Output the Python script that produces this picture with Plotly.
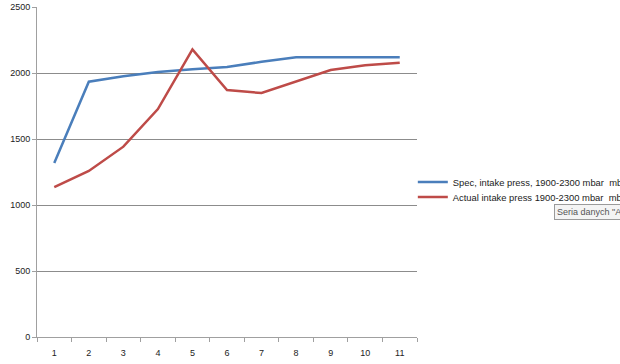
import plotly.graph_objects as go

categories = [str(i) for i in range(1, 12)]
spec_name = "Spec, intake press, 1900-2300 mbar  mbar"
spec_values = [1318, 1934, 1975, 2008, 2028, 2045, 2085, 2119, 2120, 2120, 2120]
actual_name = "Actual intake press 1900-2300 mbar  mbar"
actual_values = [1136, 1258, 1442, 1727, 2179, 1871, 1848, 1935, 2023, 2058, 2078]
y_ticks = [0, 500, 1000, 1500, 2000, 2500]
tooltip_text = 'Seria danych "A'

fig = go.Figure()
fig.add_trace(go.Scatter(x=categories, y=spec_values, mode="lines", name=spec_name,
                         line=dict(color="#4A7EBB", width=2.5), legend="legend"))
fig.add_trace(go.Scatter(x=categories, y=actual_values, mode="lines", name=actual_name,
                         line=dict(color="#BE4B48", width=2.5), legend="legend2"))

fam = "Liberation Sans, Arial, sans-serif"
font = dict(family=fam, size=9, color="#222222")
legfont = dict(family=fam, size=9.4, color="#222222")
fig.update_layout(
    width=620, height=364,
    margin=dict(l=37, r=203, t=7, b=27, autoexpand=False),
    paper_bgcolor="white", plot_bgcolor="white",
    font=font,
    showlegend=True,
    legend=dict(x=0.989, y=0.4697, xanchor="left", yanchor="middle",
                font=legfont, itemwidth=30, bgcolor="rgba(0,0,0,0)"),
    legend2=dict(x=0.989, y=0.4242, xanchor="left", yanchor="middle",
                 font=legfont, itemwidth=30, bgcolor="rgba(0,0,0,0)"),
    annotations=[dict(text=tooltip_text, xref="paper", yref="paper",
                      x=1.3605, y=0.380, xanchor="left", yanchor="middle",
                      showarrow=False, bordercolor="#9A9A9A", borderwidth=1,
                      borderpad=2, bgcolor="#F4F4F4",
                      font=dict(family=fam, size=9, color="#555555"))],
)
fig.update_xaxes(type="category", range=[-0.5, 10.5], showgrid=False,
                 showline=True, linecolor="#A0A0A0", linewidth=1,
                 ticks="outside", tickson="boundaries", ticklen=4, tickcolor="#A0A0A0",
                 tickfont=font, zeroline=False, ticklabelstandoff=7)
fig.update_yaxes(range=[0, 2500], tickvals=y_ticks, showgrid=True, gridcolor="#8C8C8C",
                 gridwidth=1, showline=True, linecolor="#A0A0A0", linewidth=1,
                 ticks="outside", ticklen=4, tickcolor="#A0A0A0", tickfont=font,
                 zeroline=False)

fig.write_html("out.html", config={"displayModeBar": False},
               post_script="document.body.style.margin='0px';")
